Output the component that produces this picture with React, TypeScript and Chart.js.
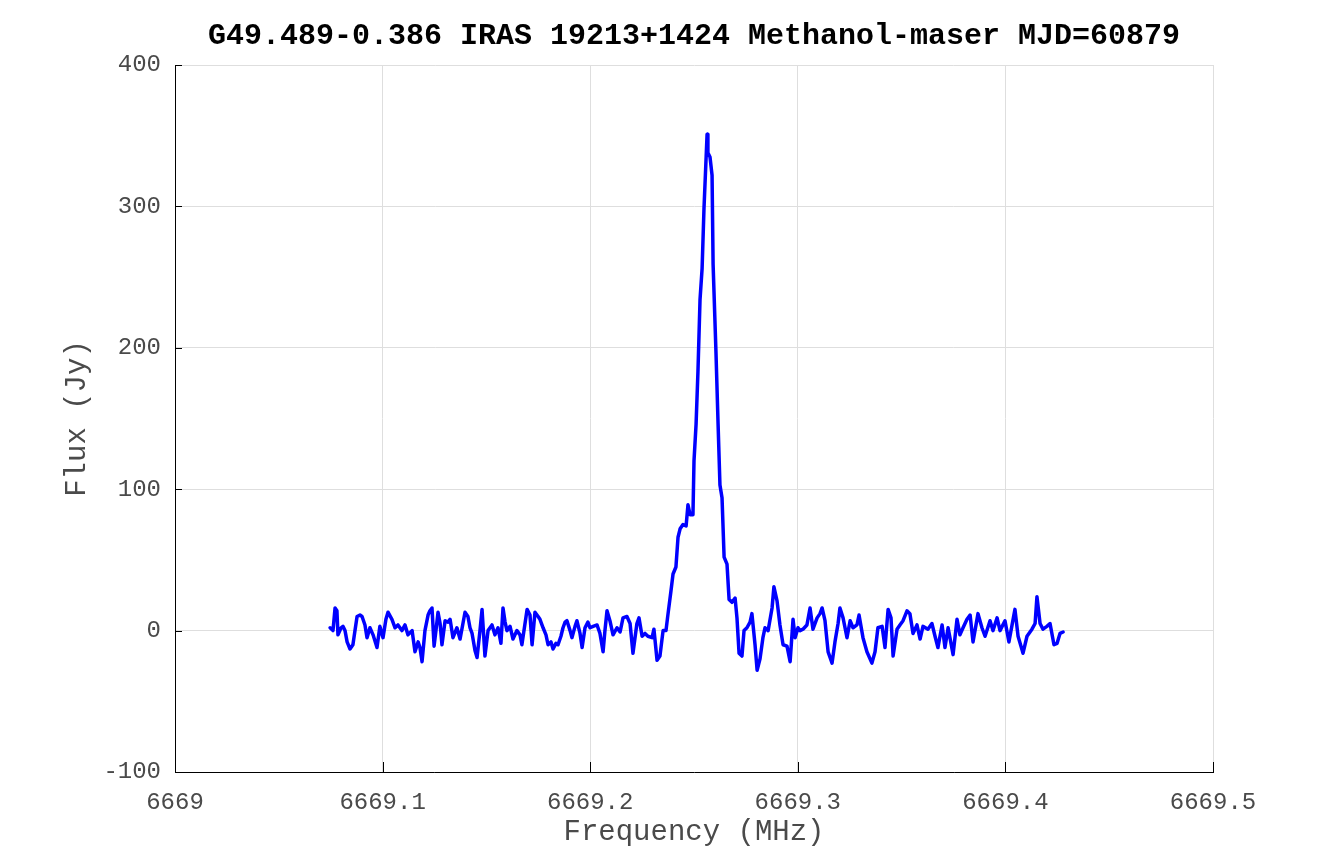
import React, { useEffect, useRef } from "react";
import { Chart, registerables } from "chart.js";

Chart.register(...registerables);

const TITLE = "G49.489-0.386 IRAS 19213+1424 Methanol-maser MJD=60879";
const X_LABEL = "Frequency (MHz)";
const Y_LABEL = "Flux (Jy)";

const F0 = 6669; // MHz base
const X_MIN = 6669;
const X_MAX = 6669.5;
const X_STEP = 0.1;
const Y_MIN = -100;
const Y_MAX = 400;
const Y_STEP = 100;

// frequency offsets from 6669 MHz
const freqOffsetMHz = [
  0.0747, 0.0761, 0.0771, 0.0780, 0.0785, 0.0800, 0.0809, 0.0819, 0.0829, 0.0843,
  0.0857, 0.0867, 0.0877, 0.0891, 0.0901, 0.0915, 0.0925, 0.0939, 0.0954, 0.0973,
  0.0987, 0.1002, 0.1016, 0.1026, 0.1045, 0.1060, 0.1074, 0.1093, 0.1108, 0.1122,
  0.1142, 0.1156, 0.1171, 0.1180, 0.1190, 0.1204, 0.1219, 0.1228, 0.1238, 0.1248,
  0.1257, 0.1267, 0.1277, 0.1286, 0.1301, 0.1315, 0.1325, 0.1339, 0.1358, 0.1373,
  0.1387, 0.1397, 0.1411, 0.1421, 0.1431, 0.1445, 0.1455, 0.1469, 0.1479, 0.1493,
  0.1508, 0.1527, 0.1541, 0.1556, 0.1570, 0.1580, 0.1590, 0.1599, 0.1614, 0.1628,
  0.1647, 0.1662, 0.1671, 0.1686, 0.1696, 0.1710, 0.1720, 0.1734, 0.1749, 0.1758,
  0.1773, 0.1787, 0.1797, 0.1811, 0.1821, 0.1835, 0.1845, 0.1859, 0.1869, 0.1879,
  0.1888, 0.1903, 0.1912, 0.1927, 0.1936, 0.1951, 0.1961, 0.1975, 0.1989, 0.1999,
  0.2014, 0.2033, 0.2047, 0.2062, 0.2071, 0.2081, 0.2095, 0.2110, 0.2129, 0.2144,
  0.2158, 0.2177, 0.2192, 0.2206, 0.2225, 0.2235, 0.2250, 0.2264, 0.2278, 0.2298,
  0.2307, 0.2322, 0.2336, 0.2351, 0.2365, 0.2375, 0.2389, 0.2399, 0.2413, 0.2423,
  0.2433, 0.2447, 0.2462, 0.2471, 0.2481, 0.2495, 0.2500, 0.2510, 0.2519, 0.2529,
  0.2539, 0.2548, 0.2563, 0.2567, 0.2577, 0.2587, 0.2592, 0.2606, 0.2616, 0.2625,
  0.2635, 0.2645, 0.2659, 0.2669, 0.2683, 0.2698, 0.2707, 0.2717, 0.2731, 0.2741,
  0.2755, 0.2770, 0.2779, 0.2794, 0.2804, 0.2818, 0.2832, 0.2842, 0.2857, 0.2876,
  0.2885, 0.2900, 0.2914, 0.2929, 0.2948, 0.2963, 0.2977, 0.2987, 0.3001, 0.3011,
  0.3025, 0.3044, 0.3059, 0.3073, 0.3093, 0.3107, 0.3117, 0.3131, 0.3146, 0.3165,
  0.3179, 0.3194, 0.3203, 0.3218, 0.3237, 0.3252, 0.3266, 0.3285, 0.3295, 0.3314,
  0.3333, 0.3357, 0.3372, 0.3386, 0.3406, 0.3420, 0.3435, 0.3449, 0.3459, 0.3478,
  0.3492, 0.3507, 0.3526, 0.3540, 0.3555, 0.3574, 0.3589, 0.3603, 0.3627, 0.3646,
  0.3661, 0.3675, 0.3695, 0.3709, 0.3724, 0.3748, 0.3767, 0.3781, 0.3796, 0.3815,
  0.3830, 0.3844, 0.3868, 0.3887, 0.3902, 0.3926, 0.3940, 0.3960, 0.3974, 0.3998,
  0.4017, 0.4046, 0.4061, 0.4085, 0.4104, 0.4128, 0.4143, 0.4152, 0.4167, 0.4181,
  0.4200, 0.4215, 0.4234, 0.4249, 0.4263, 0.4278,
];

// flux density in Jy
const fluxJy = [
  2, 0, 16, 14, -3, 2, 3, 0, -8, -13,
  -10, 0, 10, 11, 10, 4, -5, 2, -3, -12,
  3, -5, 8, 13, 8, 2, 4, 0, 4, -3,
  0, -15, -8, -12, -22, 0, 11, 14, 16, -11,
  0, 13, 5, -10, 7, 6, 8, -5, 2, -6,
  5, 13, 10, 2, -2, -14, -19, 0, 15, -18,
  0, 4, -3, 2, -9, 16, 6, 0, 3, -6,
  0, -3, -10, 5, 15, 11, -10, 13, 10, 8,
  2, -3, -10, -8, -13, -9, -10, -4, 2, 6,
  7, 0, -5, 3, 7, -2, -12, 2, 6, 2,
  3, 4, -2, -15, 0, 14, 7, -3, 2, -1,
  9, 10, 5, -16, 5, 9, -4, -2, -4, -5,
  1, -21, -18, 0, 0, 12, 28, 40, 45, 66,
  72, 75, 74, 89, 82, 82, 120, 146, 183, 234,
  256, 298, 351, 338, 335, 322, 259, 196, 146, 103,
  94, 52, 47, 22, 20, 23, 9, -16, -18, 0,
  2, 6, 12, -10, -28, -20, -5, 2, 0, 16,
  31, 21, 4, -10, -11, -22, 8, -5, 2, 0,
  1, 4, 16, 1, 9, 12, 16, 7, -15, -23,
  -8, 5, 16, 9, -5, 7, 2, 4, 11, -5,
  -15, -23, -15, 2, 3, -12, 15, 9, -18, 1,
  4, 7, 14, 12, -2, 4, -6, 3, 1, 5,
  -4, -12, 4, -12, 2, -17, 8, -3, 2, 8,
  11, -8, 12, 2, -4, 7, 0, 9, 0, 7,
  -8, 15, -4, -16, -4, 1, 5, 24, 5, 1,
  3, 5, -10, -9, -2, -1,
];

const FONT = "'Liberation Mono', 'Courier New', 'DejaVu Sans Mono', monospace";
const TEXT_GRAY = "#4a4a4a";

const inwardTicks = {
  id: "inwardTicks",
  afterDraw(chart: any) {
    const { ctx, chartArea, scales } = chart;
    const xs = scales.x;
    const ys = scales.y;
    ctx.save();
    ctx.strokeStyle = "#000";
    ctx.lineWidth = 1;
    xs.ticks.forEach((t: any) => {
      const px = Math.round(xs.getPixelForValue(t.value)) + 0.5;
      ctx.beginPath();
      ctx.moveTo(px, chartArea.bottom);
      ctx.lineTo(px, chartArea.bottom - 10);
      ctx.stroke();
    });
    ys.ticks.forEach((t: any) => {
      const py = Math.round(ys.getPixelForValue(t.value)) + 0.5;
      ctx.beginPath();
      ctx.moveTo(chartArea.left, py);
      ctx.lineTo(chartArea.left + 7, py);
      ctx.stroke();
    });
    ctx.restore();
  },
};

export default function App() {
  const canvasRef = useRef<HTMLCanvasElement | null>(null);

  useEffect(() => {
    if (!canvasRef.current) return;
    const points = freqOffsetMHz.map((f, i) => ({ x: F0 + f, y: fluxJy[i] }));
    const chart = new Chart(canvasRef.current, {
      type: "line",
      data: {
        datasets: [
          {
            data: points,
            borderColor: "#0000ff",
            borderWidth: 3.5,
            borderJoinStyle: "round",
            borderCapStyle: "round",
            pointRadius: 0,
            tension: 0,
            fill: false,
          },
        ],
      },
      options: {
        animation: false,
        responsive: false,
        devicePixelRatio: 1,
        layout: { padding: { left: 0, right: 128, top: 0, bottom: 0 } },
        plugins: {
          legend: { display: false },
          tooltip: { enabled: false },
          title: {
            display: true,
            text: TITLE,
            fullSize: false,
            color: "#000",
            font: { family: FONT, size: 30, weight: "bold", lineHeight: 1 },
            padding: { top: 21, bottom: 14 },
          },
        },
        scales: {
          x: {
            type: "linear",
            min: X_MIN,
            max: X_MAX,
            afterFit: (s: any) => {
              s.height = 96;
            },
            ticks: {
              stepSize: X_STEP,
              color: TEXT_GRAY,
              font: { family: FONT, size: 24 },
              padding: 16,
              maxRotation: 0,
              callback: (v: any) => String(Math.round(Number(v) * 10) / 10),
            },
            grid: { color: "#dedede", drawTicks: false, tickLength: 0 },
            border: { display: true, color: "#000", width: 1 },
            title: {
              display: true,
              text: X_LABEL,
              color: TEXT_GRAY,
              font: { family: FONT, size: 29, lineHeight: 1 },
              padding: { top: 0, bottom: 21 },
            },
          },
          y: {
            type: "linear",
            min: Y_MIN,
            max: Y_MAX,
            afterFit: (s: any) => {
              s.width = 175;
            },
            ticks: {
              stepSize: Y_STEP,
              color: TEXT_GRAY,
              font: { family: FONT, size: 24 },
              padding: 14,
            },
            grid: { color: "#dedede", drawTicks: false, tickLength: 0 },
            border: { display: true, color: "#000", width: 1 },
            title: {
              display: true,
              text: Y_LABEL,
              color: TEXT_GRAY,
              font: { family: FONT, size: 29, lineHeight: 1 },
              padding: { top: 63, bottom: 0 },
            },
          },
        },
      },
      plugins: [inwardTicks],
    });
    return () => chart.destroy();
  }, []);

  return (
    <div style={{ position: "fixed", left: 0, top: 0, width: 1341, height: 868, background: "#fff" }}>
      <canvas ref={canvasRef} width={1341} height={868} />
    </div>
  );
}
